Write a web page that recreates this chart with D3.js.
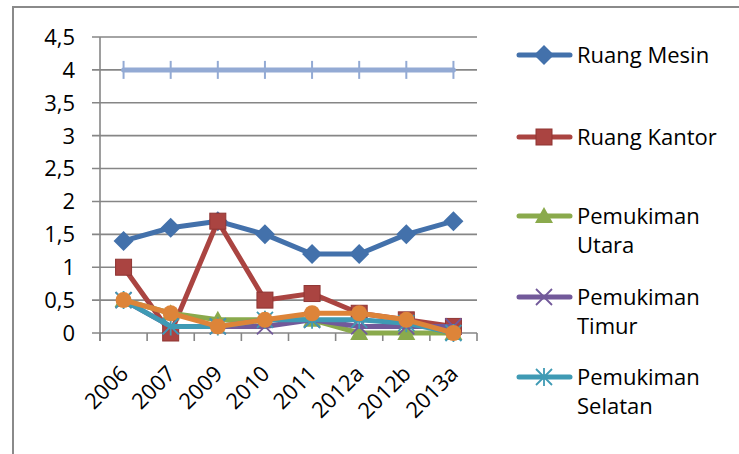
<!DOCTYPE html>
<html><head><meta charset="utf-8">
<script src="https://cdn.jsdelivr.net/npm/d3@7"></script>
<style>body{margin:0;background:#fff}svg{display:block}text{font-family:"Open Sans",sans-serif}</style>
</head><body><svg id="c" width="739" height="454"></svg>
<script>
const categories = ["2006","2007","2009","2010","2011","2012a","2012b","2013a"];
const ruangMesin = [1.4,1.6,1.7,1.5,1.2,1.2,1.5,1.7];
const ruangKantor = [1.0,0.0,1.7,0.5,0.6,0.3,0.2,0.1];
const pemUtara = [0.5,0.3,0.2,0.2,0.2,0.0,0.0,0.0];
const pemTimur = [0.5,0.1,0.1,0.1,0.2,0.1,0.1,0.1];
const pemSelatan = [0.5,0.1,0.1,0.2,0.2,0.2,0.15,0.0];
const series6 = [0.5,0.3,0.1,0.2,0.3,0.3,0.2,0.0];
const series7 = [4,4,4,4,4,4,4,4];
const yTicks = [0,0.5,1,1.5,2,2.5,3,3.5,4,4.5];

const series = [
  {name:["Ruang Mesin"], v:ruangMesin, c:"#4371AB", m:"diamond", legend:true},
  {name:["Ruang Kantor"], v:ruangKantor, c:"#AA4441", m:"square", legend:true},
  {name:["Pemukiman","Utara"], v:pemUtara, c:"#8AAA4C", m:"triangle", legend:true},
  {name:["Pemukiman","Timur"], v:pemTimur, c:"#72599A", m:"x", legend:true},
  {name:["Pemukiman","Selatan"], v:pemSelatan, c:"#3F9AB4", m:"star", legend:true},
  {name:[""], v:series6, c:"#DD8439", m:"circle", legend:false},
  {name:[""], v:series7, c:"#93AAD4", m:"plus", legend:false}
];

const svg = d3.select("#c");
svg.append("rect").attr("x",13).attr("y",7).attr("width",800).attr("height",500)
  .attr("fill","#fff").attr("stroke","#8a8a8a").attr("stroke-width",2);

const x = d3.scaleBand().domain(categories).range([100,477]);
const y = d3.scaleLinear().domain([0,4.5]).range([333,37]);
const cx = d => x(d) + x.bandwidth()/2;

svg.append("g").selectAll("line").data(yTicks).join("line")
  .attr("x1",92).attr("x2",477).attr("y1",d=>y(d)).attr("y2",d=>y(d))
  .attr("stroke","#868686").attr("stroke-width",1.6);
svg.append("line").attr("x1",100).attr("x2",100).attr("y1",y(4.5)).attr("y2",341)
  .attr("stroke","#868686").attr("stroke-width",1.6);
const bounds = categories.map(c=>x(c)).concat([477]);
svg.append("g").selectAll("line").data(bounds).join("line")
  .attr("x1",d=>d).attr("x2",d=>d).attr("y1",333).attr("y2",341)
  .attr("stroke","#868686").attr("stroke-width",1.6);
svg.append("g").selectAll("text").data(yTicks).join("text")
  .attr("x",75).attr("y",d=>y(d)).attr("dy","0.36em").attr("text-anchor","end")
  .attr("font-size",22).attr("fill","#000")
  .text(d=>String(d).replace(".",","));
svg.append("g").selectAll("text").data(categories).join("text")
  .attr("transform",d=>`translate(${cx(d)+6},${375}) rotate(-45)`)
  .attr("text-anchor","end").attr("font-size",22).attr("fill","#000").text(d=>d);

function marker(g, type, color, px, py) {
  if (type==="diamond") {
    g.append("path").attr("d",`M${px},${py-10}L${px+10},${py}L${px},${py+10}L${px-10},${py}Z`).attr("fill",color);
  } else if (type==="square") {
    g.append("rect").attr("x",px-8).attr("y",py-8).attr("width",16).attr("height",16).attr("fill",color).attr("stroke","#8f3533").attr("stroke-width",1);
  } else if (type==="triangle") {
    g.append("path").attr("d",`M${px},${py-9}L${px+9},${py+7}L${px-9},${py+7}Z`).attr("fill",color);
  } else if (type==="x") {
    g.append("path").attr("d",`M${px-8},${py-8}L${px+8},${py+8}M${px+8},${py-8}L${px-8},${py+8}`).attr("stroke",color).attr("stroke-width",1.8);
  } else if (type==="star") {
    g.append("path").attr("d",`M${px-8},${py-8}L${px+8},${py+8}M${px+8},${py-8}L${px-8},${py+8}M${px},${py-9}L${px},${py+9}`).attr("stroke",color).attr("stroke-width",1.8);
  } else if (type==="circle") {
    g.append("circle").attr("cx",px).attr("cy",py).attr("r",8).attr("fill",color);
  } else if (type==="plus") {
    g.append("path").attr("d",`M${px},${py-9}L${px},${py+9}`).attr("stroke",color).attr("stroke-width",2);
  }
}

const line = d3.line().x((d,i)=>cx(categories[i])).y(d=>y(d));
series.forEach(s=>{
  const g = svg.append("g");
  g.append("path").datum(s.v).attr("d",line).attr("fill","none")
    .attr("stroke",s.c).attr("stroke-width",5).attr("stroke-linejoin","round").attr("stroke-linecap","round");
  s.v.forEach((v,i)=>marker(g,s.m,s.c,cx(categories[i]),y(v)));
});

const legY = [55,137,216,297,377];
series.filter(s=>s.legend).forEach((s,i)=>{
  const g = svg.append("g");
  g.append("line").attr("x1",519).attr("x2",570).attr("y1",legY[i]).attr("y2",legY[i])
    .attr("stroke",s.c).attr("stroke-width",5).attr("stroke-linecap","round");
  marker(g,s.m,s.c,544,legY[i]);
  g.append("text").attr("x",577).attr("y",legY[i]).attr("font-size",22).attr("fill","#000")
    .selectAll("tspan").data(s.name).join("tspan")
    .attr("x",577).attr("dy",(t,j)=>j===0?"0.36em":"29px").text(t=>t);
});
</script></body></html>
